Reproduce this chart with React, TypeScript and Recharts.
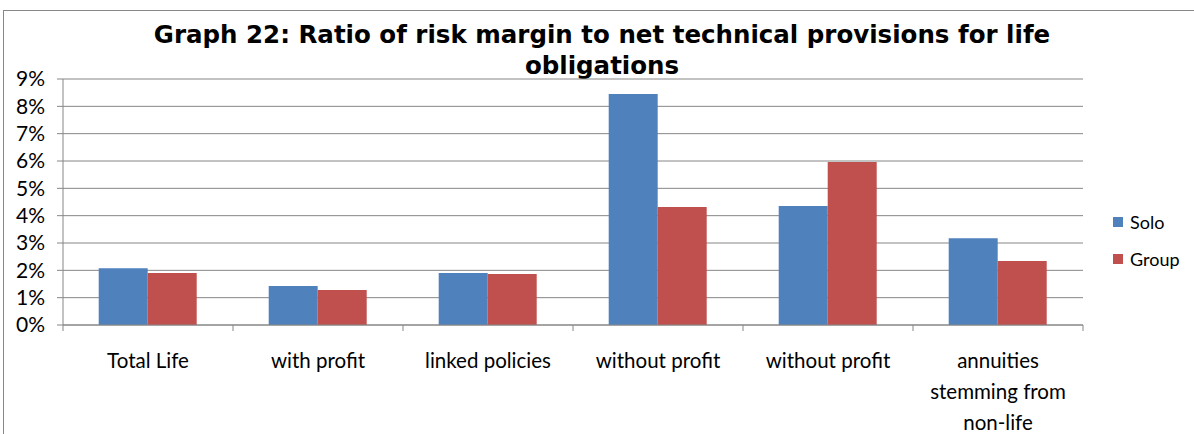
import React from 'react';
import { BarChart, Bar, XAxis, YAxis, CartesianGrid } from 'recharts';

const categories = [
  ['Total Life'],
  ['with profit'],
  ['linked policies'],
  ['without profit'],
  ['without profit'],
  ['annuities', 'stemming from', 'non-life'],
];
const solo = [2.08, 1.43, 1.9, 8.45, 4.35, 3.17];
const group = [1.9, 1.28, 1.87, 4.32, 5.96, 2.34];
const yTicks = [0, 1, 2, 3, 4, 5, 6, 7, 8, 9];
const seriesNames = ['Solo', 'Group'];
const seriesColors = ['#4f81bd', '#c0504d'];

const data = categories.map((c, i) => ({ name: c.join('\n'), solo: solo[i], group: group[i] }));

const FONT = 'Lato, "Open Sans", sans-serif';
const BAND = (1083 - 63) / categories.length;

function CatTick(props: any) {
  const { x, y, payload, index } = props;
  const lines = String(payload.value).split('\n');
  return (
    <g>
      <line x1={x - BAND / 2} x2={x - BAND / 2} y1={325} y2={331} stroke="#868686" />
      {index === categories.length - 1 && (
        <line x1={x + BAND / 2} x2={x + BAND / 2} y1={325} y2={331} stroke="#868686" />
      )}
      {lines.map((l, i) => (
        <text key={i} x={x} y={y + 35 + i * 31} textAnchor="middle" fontSize={20.5} fill="#000" fontFamily={FONT}>
          {l}
        </text>
      ))}
    </g>
  );
}

export default function App() {
  return (
    <div style={{ position: 'absolute', left: 0, top: 0, width: 1194, height: 434, overflow: 'hidden', background: '#fff' }}>
      <div style={{ position: 'absolute', left: 3, top: 10, width: 1200, height: 440, border: '1px solid #888' }} />
      <div
        style={{
          position: 'absolute',
          left: 0,
          top: 19,
          width: 1204,
          textAlign: 'center',
          fontFamily: '"DejaVu Sans", Verdana, sans-serif',
          fontWeight: 'bold',
          fontSize: 24.5,
          lineHeight: '31px',
        }}
      >
        Graph 22: Ratio of risk margin to net technical provisions for life
        <br />
        obligations
      </div>
      <div style={{ position: 'absolute', left: 1113, top: 203, fontFamily: FONT, fontSize: 18, color: '#000' }}>
        {seriesNames.map((n, i) => (
          <div key={n} style={{ display: 'flex', alignItems: 'center', height: 37 }}>
            <span style={{ width: 10, height: 10, background: seriesColors[i], display: 'inline-block', marginRight: 7 }} />
            {n}
          </div>
        ))}
      </div>
      <div style={{ position: 'absolute', left: 0, top: 0 }}>
        <BarChart
          width={1194}
          height={434}
          data={data}
          margin={{ top: 79, right: 111, bottom: 0, left: 8 }}
          barCategoryGap="21%"
          barGap={0}
        >
          <CartesianGrid vertical={false} stroke="#868686" strokeWidth={1} />
          <XAxis
            dataKey="name"
            axisLine={{ stroke: '#868686' }}
            tickLine={false}
            tick={<CatTick />}
            interval={0}
            height={109}
          />
          <YAxis
            domain={[0, 9]}
            ticks={yTicks}
            width={55}
            axisLine={{ stroke: '#868686' }}
            tickLine={{ stroke: '#868686' }}
            tickSize={6}
            tickMargin={12}
            tickFormatter={(v) => `${v}%`}
            tick={{ fontSize: 21, fill: '#000', fontFamily: FONT }}
            interval={0}
          />
          <Bar dataKey="solo" name={seriesNames[0]} fill={seriesColors[0]} isAnimationActive={false} />
          <Bar dataKey="group" name={seriesNames[1]} fill={seriesColors[1]} isAnimationActive={false} />
        </BarChart>
      </div>
    </div>
  );
}
